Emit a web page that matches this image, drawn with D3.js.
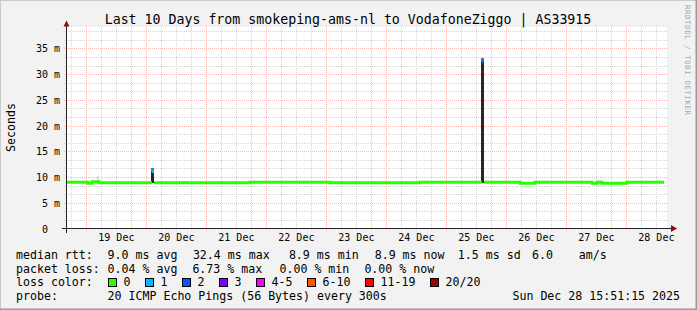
<!DOCTYPE html>
<html><head><meta charset="utf-8">
<script src="https://cdn.jsdelivr.net/npm/d3@7"></script>
<style>
html,body{margin:0;padding:0;background:#f2f2f2;}
svg{display:block;}
text{font-family:"DejaVu Sans Mono",monospace;fill:#000;white-space:pre;}
</style></head><body>
<svg id="chart" width="697" height="310"></svg>
<script>
// ---------- data ----------
const title = "Last 10 Days from smokeping-ams-nl to VodafoneZiggo | AS33915";
const yAxisTitle = "Seconds";
const watermark = "RRDTOOL / TOBI OETIKER";
const timeStart = "2025-12-18 15:51";
const timeEnd = "2025-12-28 15:51";
const yMax = 38.88; // ms (max * 1.2)
const yTickValues = [0, 5, 10, 15, 20, 25, 30, 35];
const yTickLabels = ["0  ", "5 m", "10 m", "15 m", "20 m", "25 m", "30 m", "35 m"];
const xTickDays = ["2025-12-19", "2025-12-20", "2025-12-21", "2025-12-22", "2025-12-23",
                   "2025-12-24", "2025-12-25", "2025-12-26", "2025-12-27", "2025-12-28"];
const xTickLabels = ["19 Dec", "20 Dec", "21 Dec", "22 Dec", "23 Dec",
                     "24 Dec", "25 Dec", "26 Dec", "27 Dec", "28 Dec"];

// median RTT (ms) as steps: value holds from time i to time i+1; last entry closes the series
const medianTimes = ["2025-12-18 15:51", "2025-12-19 00:39", "2025-12-19 02:15", "2025-12-19 05:03",
  "2025-12-20 02:15", "2025-12-20 03:03", "2025-12-21 17:27", "2025-12-23 01:27",
  "2025-12-24 13:27", "2025-12-25 14:15", "2025-12-25 15:03", "2025-12-26 05:27",
  "2025-12-26 11:27", "2025-12-26 15:27", "2025-12-27 10:15", "2025-12-27 12:15",
  "2025-12-27 14:15", "2025-12-28 00:15", "2025-12-28 15:03"];
const medianValues = [9.0, 8.8, 9.1, 8.9, 11.1, 8.9, 9.0, 8.9, 9.0, 32.4, 9.0, 8.8,
  9.0, 9.0, 8.8, 9.0, 8.8, 9.0, 9.0];
const medianLoss = [0, 0, 0, 0, 1, 0, 0, 0, 0, 2, 0, 0, 0, 0, 0, 0, 0, 0, 0]; // index into loss colours

// smoke (ping spread), ms
const smokeStart = ["2025-12-19 04:15", "2025-12-20 01:51", "2025-12-25 13:51"];
const smokeEnd   = ["2025-12-19 05:03", "2025-12-20 03:03", "2025-12-25 15:03"];
const smokeLow   = [9.2, 8.9, 8.9];
const smokeCore  = [9.2, 10.9, 32.3];
const smokeHigh  = [10.25, 11.7, 33.1];

const lossLabels = ["0", "1", "2", "3", "4-5", "6-10", "11-19", "20/20"];
const lossColors = ["#26ff00", "#00b8ff", "#0059ff", "#7e00ff", "#ff00ff", "#ff5500", "#ff0000", "#a00000"];

const rttLabel = "median rtt:";
const rttStats = ["9.0 ms avg", "32.4 ms max", "8.9 ms min", "8.9 ms now", "1.5 ms sd", "6.0", "am/s"];
const lossLabel = "packet loss:";
const lossStats = ["0.04 % avg", "6.73 % max", "0.00 % min", "0.00 % now"];
const lossColorLabel = "loss color:";
const probeLabel = "probe:";
const probeText = "20 ICMP Echo Pings (56 Bytes) every 300s";
const stampText = "Sun Dec 28 15:51:15 2025";

// ---------- layout ----------
const W = 697, H = 310;
const X0 = 66, X1 = 666, Y0 = 228.5, Y1 = 28.5;
const parseT = d3.timeParse("%Y-%m-%d %H:%M");
const parseD = d3.timeParse("%Y-%m-%d");
const tStart = parseT(timeStart), tEnd = parseT(timeEnd);

const x = d3.scaleTime().domain([tStart, tEnd]).range([X0, X1]);
const y = d3.scaleLinear().domain([0, yMax]).range([Y0, Y1]);

const svg = d3.select("#chart");

// background + 3D border
svg.append("rect").attr("x", 0).attr("y", 0).attr("width", W).attr("height", H).attr("fill", "#f2f2f2");
svg.append("path").attr("d", `M0,${H} V0 H${W}`).attr("stroke", "#cbcbcb").attr("stroke-width", 2).attr("fill", "none");
svg.append("path").attr("d", `M${W},0 V${H} H0`).attr("stroke", "#999").attr("stroke-width", 3).attr("fill", "none");

// canvas
svg.append("rect").attr("x", X0).attr("y", 27).attr("width", X1 - X0 + 1).attr("height", Y0 - 27)
  .attr("fill", "#fff");

const grid = svg.append("g").attr("shape-rendering", "crispEdges");

// horizontal grid: minor every 5/3 ms, major at labelled values
const minorY = d3.range(1, Math.floor(yMax * 3 / 5) + 1).map(i => i * 5 / 3).filter(v => Math.abs(v / 5 - Math.round(v / 5)) > 1e-6);
grid.selectAll(".hmin").data(minorY).join("line")
  .attr("x1", X0 - 2).attr("x2", X1 + 1)
  .attr("y1", d => Math.round(y(d)) + 0.5).attr("y2", d => Math.round(y(d)) + 0.5)
  .attr("stroke", "#d4d4d4").attr("stroke-dasharray", "1,1");

// vertical grid: minor every 6 h, major at midnight
const days = d3.timeDay.range(tStart, tEnd);
const sixHours = d3.timeHour.every(6).range(tStart, tEnd).filter(d => d.getHours() !== 0);
grid.selectAll(".vmin").data(sixHours).join("line")
  .attr("x1", d => Math.round(x(d)) + 0.5).attr("x2", d => Math.round(x(d)) + 0.5)
  .attr("y1", 26).attr("y2", Y0 + 2)
  .attr("stroke", "#d4d4d4").attr("stroke-dasharray", "1,1");

grid.selectAll(".hmaj").data(yTickValues.filter(v => v > 0)).join("line")
  .attr("x1", X0 - 2).attr("x2", X1 + 1)
  .attr("y1", d => Math.round(y(d)) + 0.5).attr("y2", d => Math.round(y(d)) + 0.5)
  .attr("stroke", "#f7b8b8").attr("stroke-dasharray", "1,1");
grid.selectAll(".vmaj").data(days).join("line")
  .attr("x1", d => Math.round(x(d)) + 0.5).attr("x2", d => Math.round(x(d)) + 0.5)
  .attr("y1", 26).attr("y2", Y0 + 2)
  .attr("stroke", "#f7b8b8").attr("stroke-dasharray", "1,1");

// smoke
const smoke = smokeStart.map((s, i) => ({t0: parseT(s), t1: parseT(smokeEnd[i]), lo: smokeLow[i], core: smokeCore[i], hi: smokeHigh[i]}));
const sg = svg.append("g").attr("shape-rendering", "crispEdges");
sg.selectAll(".outer").data(smoke).join("rect")
  .attr("x", d => Math.round(x(d.t0))).attr("width", d => Math.max(1, Math.round(x(d.t1)) - Math.round(x(d.t0))))
  .attr("y", d => Math.round(y(d.hi))).attr("height", d => Math.round(y(d.lo)) - Math.round(y(d.hi)))
  .attr("fill", d => d.core > d.lo ? "#6e6e6e" : "#d6d6d6");
sg.selectAll(".core").data(smoke.filter(d => d.core > d.lo)).join("rect")
  .attr("x", d => Math.round(x(d.t0))).attr("width", d => Math.max(1, Math.round(x(d.t1)) - Math.round(x(d.t0))))
  .attr("y", d => Math.round(y(d.core))).attr("height", d => Math.round(y(d.lo)) - Math.round(y(d.core)))
  .attr("fill", "#262626");

// median line, split into runs of equal loss colour
const pts = medianTimes.map((t, i) => ({t: parseT(t), v: medianValues[i], loss: medianLoss[i]}));
const runs = [];
for (let i = 0; i < pts.length - 1; i++) {
  const seg = pts[i], next = pts[i + 1];
  let run = runs[runs.length - 1];
  if (!run || run.loss !== seg.loss) { run = {loss: seg.loss, pts: []}; runs.push(run); }
  run.pts.push([seg.t, seg.v]);
  run.end = [next.t, seg.v];
}
runs.forEach(r => r.pts.push(r.end));
const line = d3.line().x(d => x(d[0])).y(d => y(d[1])).curve(d3.curveStepAfter);
svg.append("g").selectAll("path").data(runs).join("path")
  .attr("d", d => line(d.pts))
  .attr("fill", "none")
  .attr("stroke", d => lossColors[d.loss])
  .attr("stroke-width", 3);

// axes
const axis = svg.append("g").attr("shape-rendering", "crispEdges");
axis.append("line").attr("x1", 62).attr("x2", 672).attr("y1", 228.5).attr("y2", 228.5).attr("stroke", "#222");
axis.append("line").attr("x1", 66.5).attr("x2", 66.5).attr("y1", 233).attr("y2", 25).attr("stroke", "#222");
svg.append("path").attr("d", "M671,225 L677,228.5 L671,232 Z").attr("fill", "#8b1010");
svg.append("path").attr("d", "M63.5,26.5 L66.5,20.5 L69.5,26.5 Z").attr("fill", "#8b1010");

// y tick labels
svg.append("g").selectAll("text").data(yTickValues).join("text")
  .attr("x", 60).attr("y", d => Math.round(y(d)) + 4)
  .attr("text-anchor", "end").attr("font-size", "10px")
  .text((d, i) => yTickLabels[i]);

// x tick labels at noon of each day
svg.append("g").selectAll("text").data(xTickDays).join("text")
  .attr("x", d => x(d3.timeHour.offset(parseD(d), 12)))
  .attr("y", 241).attr("text-anchor", "middle").attr("font-size", "10px")
  .text((d, i) => xTickLabels[i]);

// title
svg.append("text").attr("x", 348).attr("y", 23.5).attr("text-anchor", "middle")
  .attr("font-size", "13.25px").text(title);

// y axis title
svg.append("text").attr("transform", "translate(14.5,127.5) rotate(-90)")
  .attr("text-anchor", "middle").attr("font-size", "11.6px").text(yAxisTitle);

// watermark
svg.append("text").attr("transform", "translate(684.8,5) rotate(90)")
  .attr("font-size", "7.4px").attr("textLength", 110).attr("lengthAdjust", "spacing")
  .style("fill", "#a8a8a8").text(watermark);

// legend / stats
const lg = svg.append("g").attr("font-size", "11.6px");
const rowY = [259, 272.6, 286.3, 300];
lg.append("text").attr("x", 16).attr("y", rowY[0]).text(rttLabel);
const rttX = [107.6, 192.9, 288.9, 374.7, 457.8, 532, 578.7];
lg.selectAll(".rtt").data(rttStats).join("text").attr("x", (d, i) => rttX[i]).attr("y", rowY[0]).text(d => d);

lg.append("text").attr("x", 16).attr("y", rowY[1]).text(lossLabel);
const lossX = [107.6, 192.4, 279.5, 364.4];
lg.selectAll(".loss").data(lossStats).join("text").attr("x", (d, i) => lossX[i]).attr("y", rowY[1]).text(d => d);

lg.append("text").attr("x", 16).attr("y", rowY[2]).text(lossColorLabel);
const boxX = [108.5, 145.5, 182.5, 219.5, 256.5, 307.5, 365.5, 430.5];
lg.selectAll(".box").data(lossColors).join("rect")
  .attr("x", (d, i) => boxX[i]).attr("y", 278.5).attr("width", 8).attr("height", 8)
  .attr("fill", d => d).attr("stroke", "#000").attr("stroke-width", 1).attr("shape-rendering", "crispEdges");
lg.selectAll(".boxlab").data(lossLabels).join("text")
  .attr("x", (d, i) => boxX[i] + 15).attr("y", rowY[2]).text(d => d);

lg.append("text").attr("x", 16).attr("y", rowY[3]).text(probeLabel);
lg.append("text").attr("x", 107.6).attr("y", rowY[3]).text(probeText);
lg.append("text").attr("x", 680).attr("y", rowY[3]).attr("text-anchor", "end").text(stampText);
</script>
</body></html>
